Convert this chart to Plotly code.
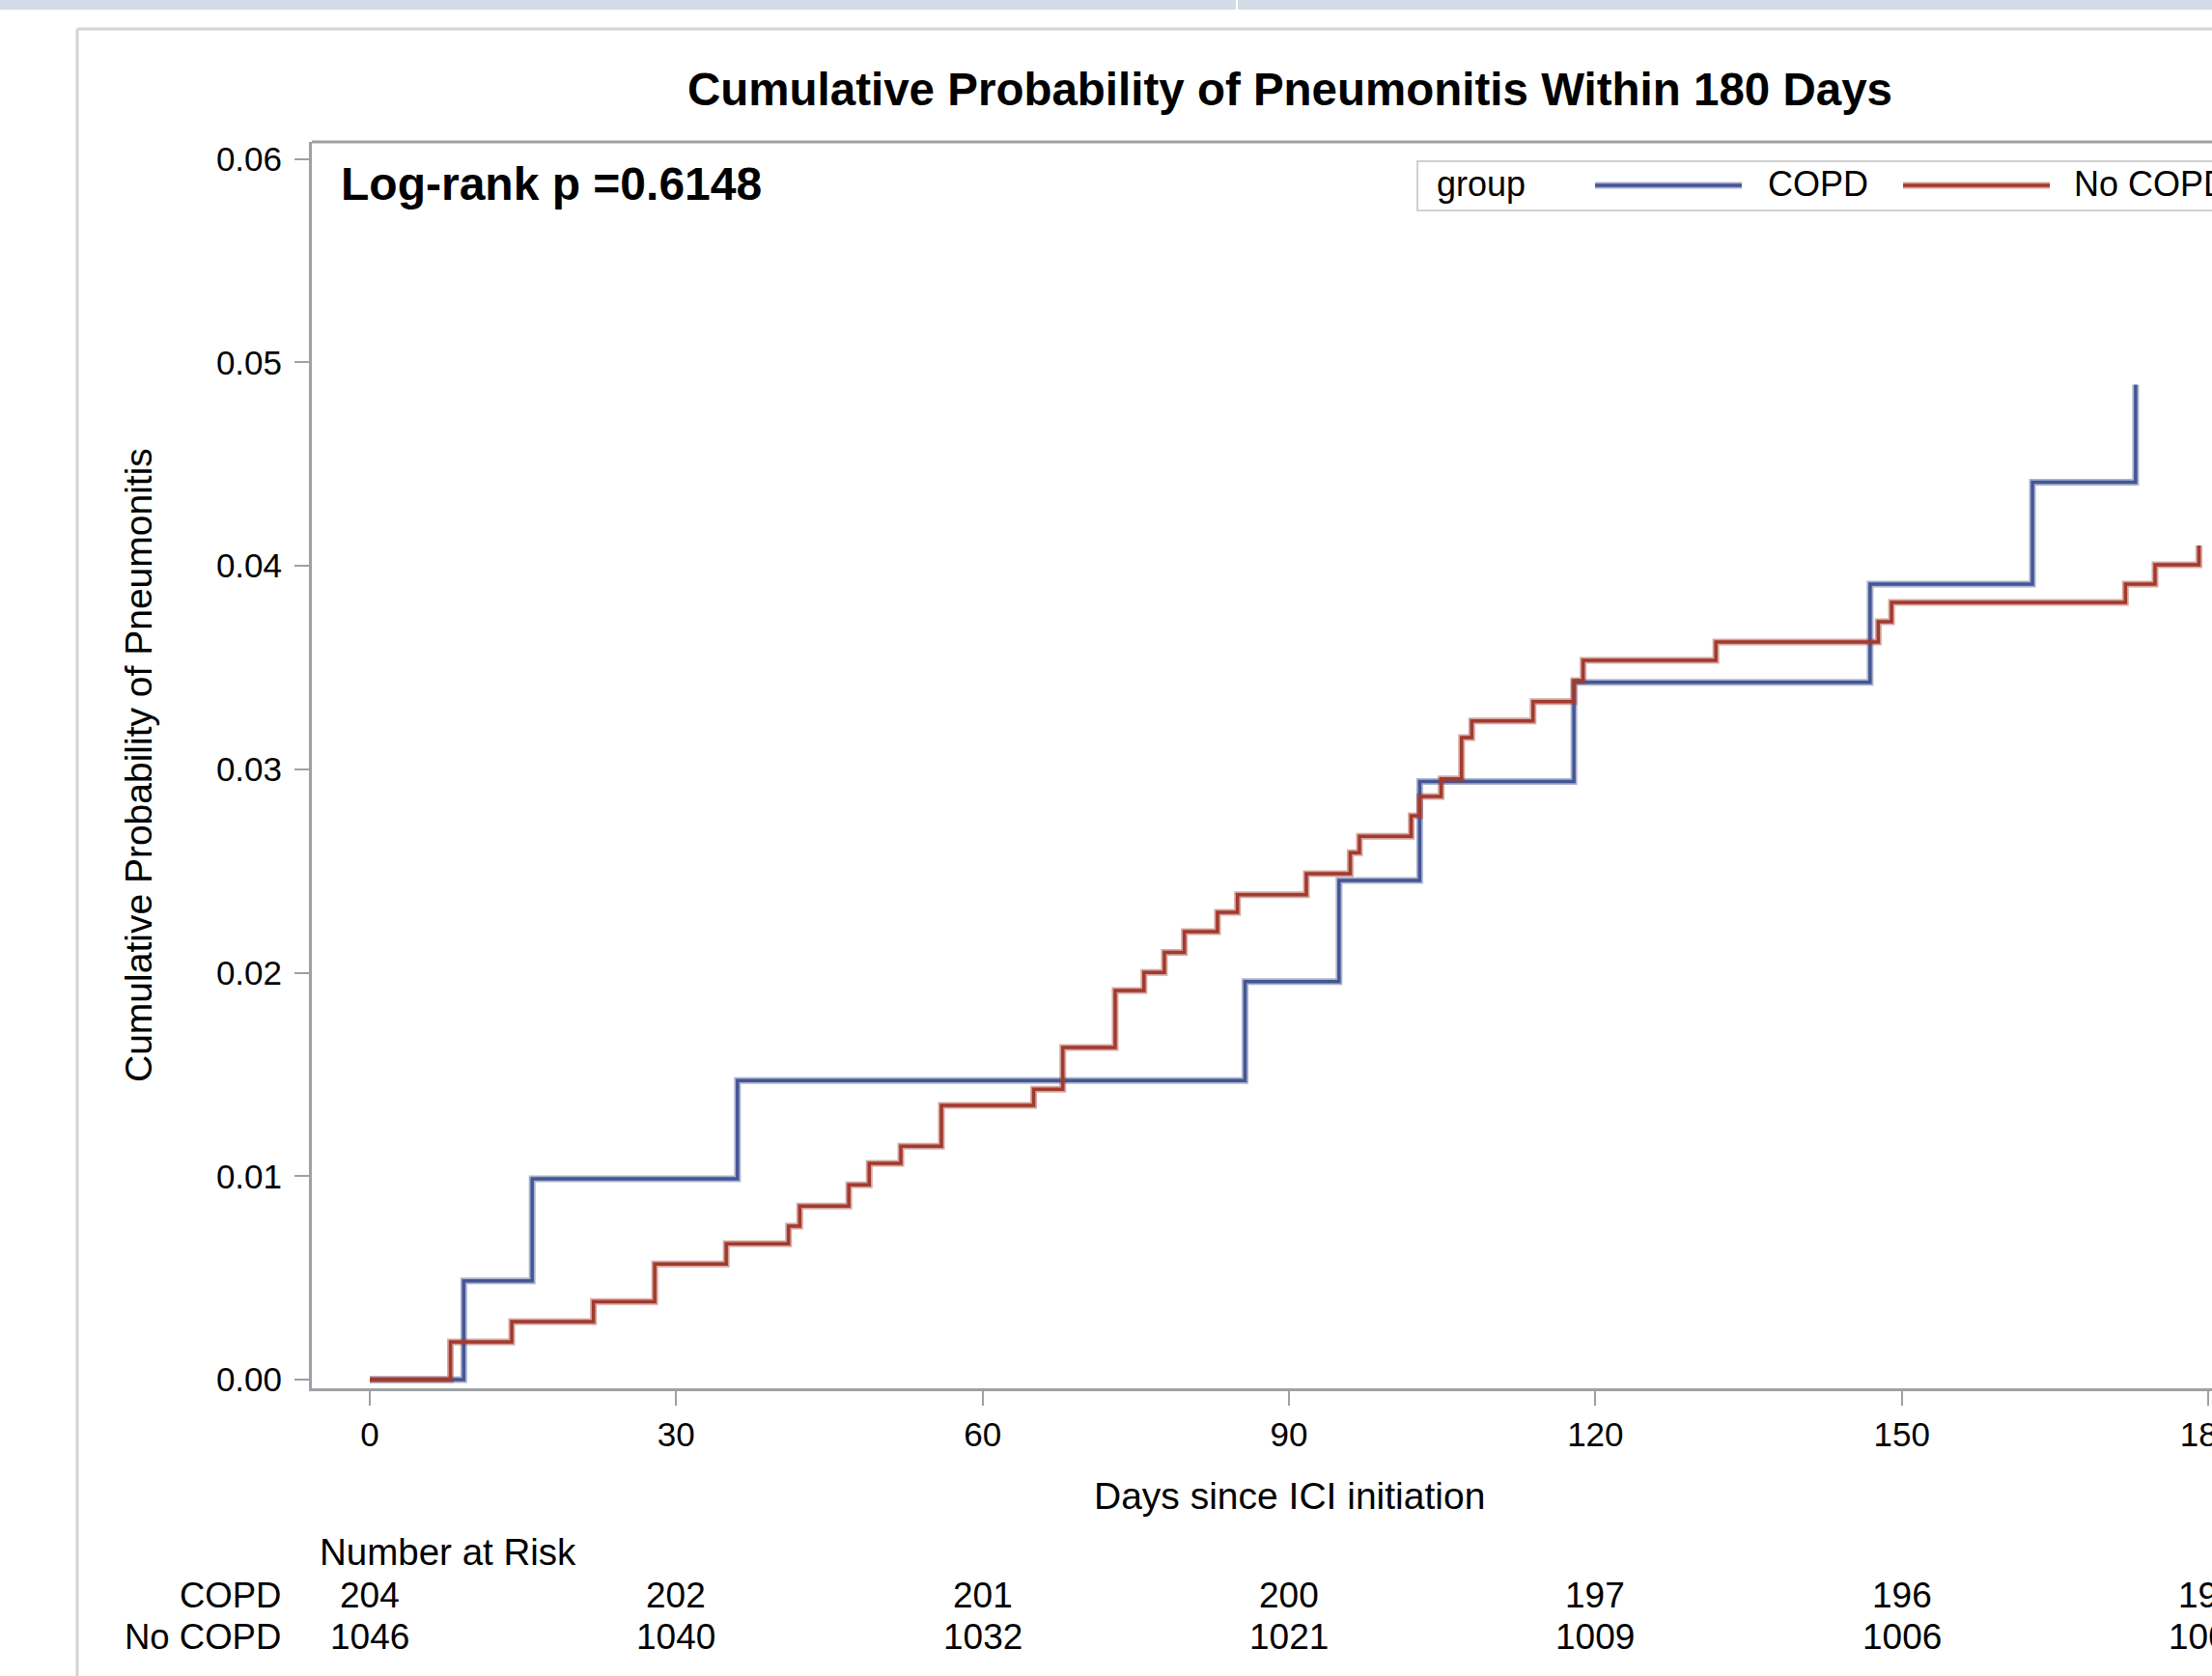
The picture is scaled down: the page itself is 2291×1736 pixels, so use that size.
import plotly.graph_objects as go

# ---------------- data ----------------
copd_days = [0, 9.2, 15.9, 36.0, 85.7, 94.9, 102.8, 117.9, 146.9, 162.8, 172.9]
copd_prob = [0.0, 0.00485, 0.00987, 0.0147, 0.01956, 0.02453, 0.0294, 0.03427, 0.0391, 0.04411, 0.0489]

nocopd_days = [0, 7.9, 13.9, 21.9, 27.9, 34.9, 41.0, 42.1, 46.9, 48.9, 52.0, 55.97, 65.0, 67.85,
               72.98, 75.8, 77.8, 79.76, 83.0, 84.96, 91.7, 96.0, 96.9, 101.97, 102.8, 104.9,
               106.9, 107.9, 113.9, 117.9, 118.8, 131.8, 147.7, 149.0, 171.9, 174.8, 179.1]
nocopd_prob = [0.0, 0.00185, 0.00285, 0.00383, 0.00568, 0.00668, 0.00754, 0.00853, 0.00957, 0.01063,
               0.01147, 0.01348, 0.01427, 0.01632, 0.01912, 0.02001, 0.0210, 0.02202, 0.02297, 0.02383,
               0.02486, 0.02589, 0.0267, 0.02771, 0.02866, 0.02953, 0.03155, 0.03237, 0.03332,
               0.03435, 0.03535, 0.03625, 0.03725, 0.0382, 0.0391, 0.04005, 0.0410]

risk_days = [0, 30, 60, 90, 120, 150, 180]
risk_copd = [204, 202, 201, 200, 197, 196, 194]
risk_nocopd = [1046, 1040, 1032, 1021, 1009, 1006, 1003]

x_ticks = [0, 30, 60, 90, 120, 150, 180]
y_ticks = [0.00, 0.01, 0.02, 0.03, 0.04, 0.05, 0.06]

title_text = "Cumulative Probability of Pneumonitis Within 180 Days"
pvalue_text = "Log-rank p =0.6148"
x_title = "Days since ICI initiation"
y_title = "Cumulative Probability of Pneumonitis"
group_names = ["COPD", "No COPD"]

# ---------------- layout geometry (pixels) ----------------
W, H = 2291, 1736
ML, MR, MT, MB = 323, 0, 147, 298
PW, PH = W - ML - MR, H - MT - MB

def px(x):
    return (x - ML) / PW

def py(y):
    return (H - MB - y) / PH

BLUE = "#445694"
BLUE_HALO = "rgba(68,86,148,0.45)"
RED = "#A23A2E"
RED_HALO = "rgba(162,58,46,0.45)"
AXIS = "#9DA1A5"
FONT = "Liberation Sans, Arial, sans-serif"

fig = go.Figure()
for xs, ys, core, halo, nm in [(copd_days, copd_prob, BLUE, BLUE_HALO, group_names[0]),
                               (nocopd_days, nocopd_prob, RED, RED_HALO, group_names[1])]:
    fig.add_trace(go.Scatter(x=xs, y=ys, mode="lines", line=dict(color=halo, width=7, shape="hv"),
                             name=nm, showlegend=False, hoverinfo="skip"))
    fig.add_trace(go.Scatter(x=xs, y=ys, mode="lines", line=dict(color=core, width=3.5, shape="hv"),
                             name=nm, showlegend=False))

shapes = []
# top strip of the host page
shapes.append(dict(type="rect", xref="paper", yref="paper", x0=px(0), x1=px(W), y0=py(0), y1=py(10),
                   fillcolor="#D3DCE6", line=dict(width=0), layer="below"))
shapes.append(dict(type="line", xref="paper", yref="paper", x0=px(1281), x1=px(1281), y0=py(0), y1=py(10),
                   line=dict(color="#FFFFFF", width=2)))
# outer frame
shapes.append(dict(type="line", xref="paper", yref="paper", x0=px(80), x1=px(W + 5), y0=py(30), y1=py(30),
                   line=dict(color="#D4D4D4", width=3)))
shapes.append(dict(type="line", xref="paper", yref="paper", x0=px(80), x1=px(80), y0=py(30), y1=py(H + 5),
                   line=dict(color="#D4D4D4", width=3)))
# top border of plot wall
shapes.append(dict(type="line", xref="paper", yref="paper", x0=0, x1=1, y0=1, y1=1,
                   line=dict(color=AXIS, width=3)))
# legend box
shapes.append(dict(type="rect", xref="paper", yref="paper", x0=px(1468), x1=px(W + 40), y0=py(218), y1=py(167),
                   line=dict(color="#D0D0D0", width=2), fillcolor="rgba(0,0,0,0)"))
for x0, x1, core, halo in [(1652, 1804, BLUE, BLUE_HALO), (1971, 2123, RED, RED_HALO)]:
    shapes.append(dict(type="line", xref="paper", yref="paper", x0=px(x0), x1=px(x1), y0=py(192), y1=py(192),
                       line=dict(color=halo, width=7)))
    shapes.append(dict(type="line", xref="paper", yref="paper", x0=px(x0), x1=px(x1), y0=py(192), y1=py(192),
                       line=dict(color=core, width=3.5)))

ann = []
ann.append(dict(text=f"<b>{title_text}</b>", xref="paper", yref="paper", x=px(1336), y=py(92),
                showarrow=False, font=dict(size=47.5, color="#000", family=FONT), xanchor="center", yanchor="middle"))
ann.append(dict(text=f"<b>{pvalue_text}</b>", xref="paper", yref="paper", x=px(351), y=py(191),
                showarrow=False, font=dict(size=48, color="#000", family=FONT), xanchor="left", yanchor="middle"))
ann.append(dict(text=x_title, xref="paper", yref="paper", x=px(1335), y=py(1549),
                showarrow=False, font=dict(size=39, color="#000", family=FONT), xanchor="center", yanchor="middle"))
ann.append(dict(text=y_title, xref="paper", yref="paper", x=px(143), y=py(793), textangle=-90,
                showarrow=False, font=dict(size=39, color="#000", family=FONT), xanchor="center", yanchor="middle"))
# legend texts
ann.append(dict(text="group", xref="paper", yref="paper", x=px(1486), y=py(191), showarrow=False,
                font=dict(size=36, color="#000", family=FONT), xanchor="left", yanchor="middle"))
ann.append(dict(text=group_names[0], xref="paper", yref="paper", x=px(1829), y=py(191), showarrow=False,
                font=dict(size=36, color="#000", family=FONT), xanchor="left", yanchor="middle"))
ann.append(dict(text=group_names[1], xref="paper", yref="paper", x=px(2146), y=py(191), showarrow=False,
                font=dict(size=36, color="#000", family=FONT), xanchor="left", yanchor="middle"))
# number at risk
ann.append(dict(text="Number at Risk", xref="paper", yref="paper", x=px(329), y=py(1607), showarrow=False,
                font=dict(size=38.5, color="#000", family=FONT), xanchor="left", yanchor="middle"))
ann.append(dict(text=group_names[0], xref="paper", yref="paper", x=px(293), y=py(1652), showarrow=False,
                font=dict(size=36.5, color="#000", family=FONT), xanchor="right", yanchor="middle"))
ann.append(dict(text=group_names[1], xref="paper", yref="paper", x=px(293), y=py(1695), showarrow=False,
                font=dict(size=36.5, color="#000", family=FONT), xanchor="right", yanchor="middle"))
for d, c, n in zip(risk_days, risk_copd, risk_nocopd):
    ann.append(dict(text=str(c), xref="x", yref="paper", x=d, y=py(1652), showarrow=False,
                    font=dict(size=37, color="#000", family=FONT), xanchor="center", yanchor="middle"))
    ann.append(dict(text=str(n), xref="x", yref="paper", x=d, y=py(1695), showarrow=False,
                    font=dict(size=37, color="#000", family=FONT), xanchor="center", yanchor="middle"))

x0_px, x180_px = 383, 2287
ppd = (x180_px - x0_px) / 180.0
xr = [(ML - x0_px) / ppd, (W - MR - x0_px) / ppd]
zero_px = 1429
ppv = (zero_px - 164.5) / 0.06
yr = [-(H - MB - zero_px) / ppv, (zero_px - MT) / ppv]

fig.update_layout(
    width=W, height=H, autosize=False,
    margin=dict(l=ML, r=MR, t=MT, b=MB, pad=0, autoexpand=False),
    paper_bgcolor="white", plot_bgcolor="white",
    showlegend=False,
    shapes=shapes, annotations=ann,
    font=dict(family=FONT, color="#000"),
    xaxis=dict(range=xr, tickvals=x_ticks, ticktext=[str(v) for v in x_ticks],
               automargin=False,
               showgrid=False, zeroline=False, showline=True, linecolor=AXIS, linewidth=3,
               ticks="outside", ticklen=15, tickwidth=2, tickcolor=AXIS,
               tickfont=dict(size=35, family=FONT, color="#000"), ticklabelstandoff=0,
               ticklabeloverflow="allow", fixedrange=True),
    yaxis=dict(range=yr, tickvals=y_ticks, ticktext=[f"{v:.2f}" for v in y_ticks],
               automargin=False,
               showgrid=False, zeroline=False, showline=True, linecolor=AXIS, linewidth=3,
               ticks="outside", ticklen=15, tickwidth=2, tickcolor=AXIS,
               tickfont=dict(size=35, family=FONT, color="#000"), ticklabelstandoff=6,
               fixedrange=True),
)

post = ("document.body.style.margin='0';document.body.style.overflow='hidden';"
        "var gd=document.getElementById('{plot_id}');"
        "Plotly.relayout(gd,{width:%d,height:%d});" % (W, H))

fig.write_html("out.html", config={"responsive": False, "displayModeBar": False}, post_script=post)
